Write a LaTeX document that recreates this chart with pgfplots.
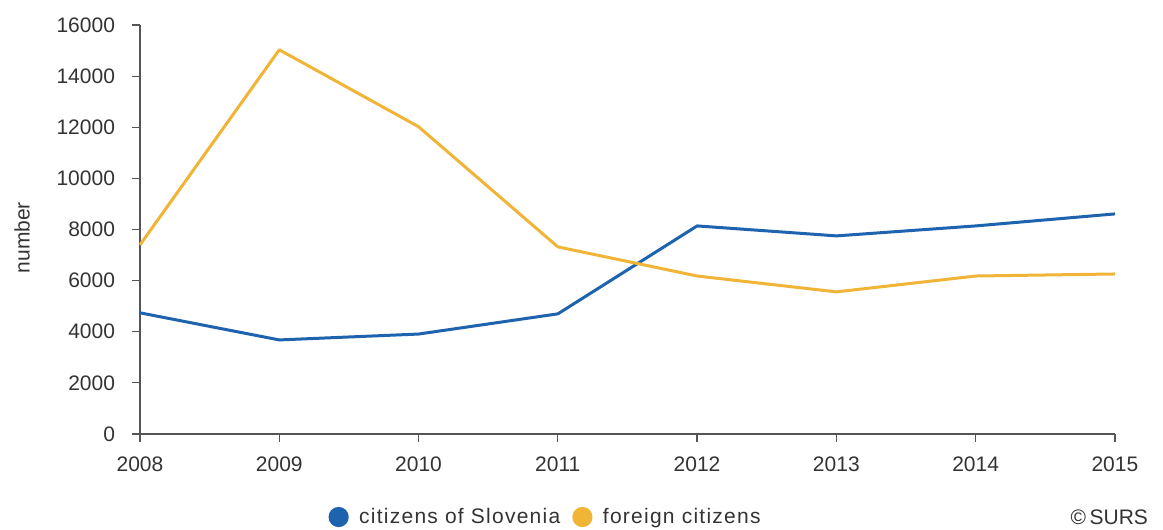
\documentclass[border=0pt]{standalone}
\usepackage{fontspec}
\setmainfont{Liberation Sans}
\newfontfamily\legfont[LetterSpace=6]{Liberation Sans}
\usepackage{pgfplots}
\pgfplotsset{compat=1.18}
\definecolor{surBlue}{HTML}{1D63AD}
\definecolor{surOrange}{HTML}{F0B437}
\definecolor{axGray}{HTML}{555555}
\definecolor{txtGray}{HTML}{333333}

\begin{document}
\begin{tikzpicture}[x=1pt,y=1pt]
\useasboundingbox (0,0) rectangle (581.5,265);
\begin{axis}[
  at={(70pt,48pt)}, anchor=origin,
  width=487.5pt, height=204.5pt, scale only axis,
  xmin=2008, xmax=2015, ymin=0, ymax=16000,
  axis x line*=bottom, axis y line*=left,
  axis line style={axGray, line width=0.8pt, -},
  xtick={2008,...,2015}, ytick={0,2000,...,16000},
  tick align=outside, major tick length=4pt,
  tick style={axGray, line width=0.6pt},
  x tick label style={/pgf/number format/1000 sep={}, yshift=-4pt},
  y tick label style={/pgf/number format/1000 sep={}, xshift=-5pt},
  /pgf/number format/assume math mode=true,
  ticklabel style={font=\fontsize{10.5}{12}\selectfont, text=txtGray},
  scaled y ticks=false,
  ylabel={number},
  ylabel style={font=\fontsize{10.5}{12}\selectfont, text=txtGray,
    at={(axis description cs:-0.121,0.48)}, anchor=center},
  legend columns=2,
  legend style={draw=none, fill=none, font=\legfont\fontsize{10.5}{12}\selectfont,
    text=txtGray, at={(axis description cs:0.417,-0.203)}, anchor=center,
    /tikz/every even column/.append style={column sep=4pt}},
  legend image code/.code={\fill (0,0) circle (4.3pt); \path (7.5pt,0);},
  every axis plot/.append style={line width=1.5pt, line join=round},
  clip=false,
]
\addplot[surBlue] coordinates {
  (2008,4740) (2009,3680) (2010,3910) (2011,4700)
  (2012,8140) (2013,7750) (2014,8140) (2015,8610)};
\addlegendentry{citizens of Slovenia}
\addplot[surOrange] coordinates {
  (2008,7400) (2009,15030) (2010,12020) (2011,7320)
  (2012,6180) (2013,5560) (2014,6180) (2015,6260)};
\addlegendentry{foreign citizens}
\end{axis}
\node[anchor=east, font=\fontsize{10.5}{12}\selectfont, text=txtGray] at (577.5,6.5) {\textcopyright\,SURS};
\end{tikzpicture}
\end{document}
